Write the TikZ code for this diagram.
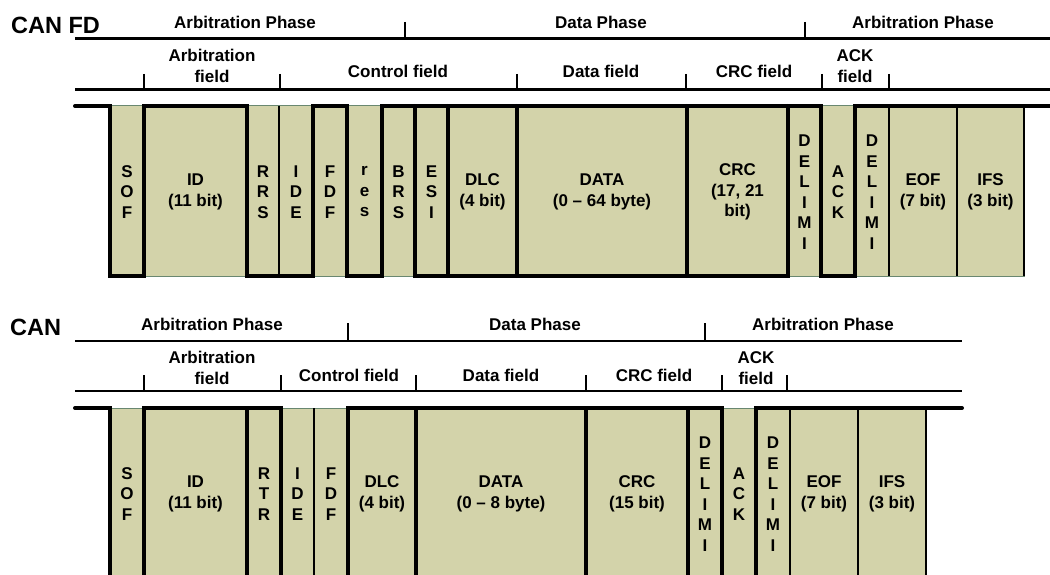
\documentclass[tikz,border=0pt]{standalone}
\usepackage{fontspec}
\setmainfont{Liberation Sans}
\definecolor{boxfill}{RGB}{211,211,170}
\definecolor{edgegreen}{RGB}{105,135,112}
\tikzset{
  titlelbl/.style={font=\bfseries\fontsize{23.5}{26}\selectfont, inner sep=0pt},
  lbl/.style={font=\bfseries\fontsize{17}{21.5}\selectfont, inner sep=0pt, align=center},
  bitlbl/.style={font=\bfseries\fontsize{17}{20.5}\selectfont, inner sep=0pt, align=center},
  ruleline/.style={line width=2.2pt},
  tickline/.style={line width=2pt},
  sigline/.style={line width=4pt, line join=miter, line cap=round},
  thinline/.style={line width=1.4pt},
  cellfill/.style={fill=boxfill, draw=edgegreen, line width=1pt},
}
\begin{document}
\begin{tikzpicture}[x=1pt,y=-1pt]
\useasboundingbox (0,0) rectangle (1050,575);
\clip (0,0) rectangle (1050,575);

% ================= CAN FD =================
\node[titlelbl, anchor=base west] (canfd) at (11,34) {CAN FD};
% phase line
\draw[ruleline] (75,38.5) -- (1050,38.5);
\foreach \x in {405,805} \draw[tickline] (\x,22) -- (\x,38.5);
\node[lbl, anchor=base] (fdph1) at (245,29) {Arbitration Phase};
\node[lbl, anchor=base] (fdph2) at (601,29) {Data Phase};
\node[lbl, anchor=base] (fdph3) at (923,29) {Arbitration Phase};
% field line
\draw[ruleline] (75,89.5) -- (1050,89.5);
\foreach \x in {144,280,517,686,822,889} \draw[tickline] (\x,74) -- (\x,89.5);
\node[lbl] (fdf1) at (212,66) {Arbitration\\field};
\node[lbl, anchor=base] (fdf2) at (398,78) {Control field};
\node[lbl, anchor=base] (fdf3) at (601,78) {Data field};
\node[lbl, anchor=base] (fdf4) at (754,78) {CRC field};
\node[lbl] (fdf5) at (855,66) {ACK\\field};
% cells
\fill[cellfill] (110,106) rectangle (1024,276);
\foreach \x in {279,889,957,1024} \draw[thinline] (\x,106) -- (\x,276);
\foreach \x in {448,517,687} \draw[sigline] (\x,106) -- (\x,276);
\draw[sigline] (75,106) -- (110,106) -- (110,276) -- (144,276) -- (144,106)
  -- (247,106) -- (247,276) -- (313,276) -- (313,106) -- (347,106)
  -- (347,276) -- (382,276) -- (382,106) -- (821,106) -- (821,276)
  -- (855,276) -- (855,106) -- (1050,106);
\draw[sigline] (415,106) -- (415,276) -- (788,276) -- (788,106);
\foreach \a/\b/\t [count=\i] in {
  110/144/{S\\O\\F},
  144/247/{ID\\(11 bit)},
  247/279/{R\\R\\S},
  279/313/{I\\D\\E},
  313/347/{F\\D\\F},
  347/382/{r\\e\\s},
  382/415/{B\\R\\S},
  415/448/{E\\S\\I},
  448/517/{DLC\\(4 bit)},
  517/687/{DATA\\(0 – 64 byte)},
  687/788/{CRC\\(17, 21\\bit)},
  788/821/{D\\E\\L\\I\\M\\I},
  821/855/{A\\C\\K},
  855/889/{D\\E\\L\\I\\M\\I},
  889/957/{EOF\\(7 bit)},
  957/1024/{IFS\\(3 bit)}}
  \node[bitlbl] (fdbit\i) at ({(\a+\b)/2},192) {\t};

% ================= CAN =================
\node[titlelbl, anchor=base west] (can) at (10,335) {CAN};
\draw[ruleline] (75,341) -- (962,341);
\foreach \x in {348,705} \draw[tickline] (\x,323) -- (\x,341);
\node[lbl, anchor=base] (cph1) at (212,330) {Arbitration Phase};
\node[lbl, anchor=base] (cph2) at (535,330) {Data Phase};
\node[lbl, anchor=base] (cph3) at (823,330) {Arbitration Phase};
\draw[ruleline] (75,391) -- (962,391);
\foreach \x in {144,281,416,586,722,787} \draw[tickline] (\x,375) -- (\x,391);
\node[lbl] (cf1) at (212,368) {Arbitration\\field};
\node[lbl, anchor=base] (cf2) at (349,381) {Control field};
\node[lbl, anchor=base] (cf3) at (501,381) {Data field};
\node[lbl, anchor=base] (cf4) at (654,381) {CRC field};
\node[lbl] (cf5) at (756,368) {ACK\\field};
\fill[cellfill] (110,408) rectangle (926,578);
\foreach \x in {314,790,858,926} \draw[thinline] (\x,408) -- (\x,578);
\foreach \x in {247,416,586,688} \draw[sigline] (\x,408) -- (\x,578);
\draw[sigline] (75,408) -- (110,408) -- (110,578) -- (144,578) -- (144,408)
  -- (281,408) -- (281,578) -- (348,578) -- (348,408) -- (722,408)
  -- (722,578) -- (756,578) -- (756,408) -- (962,408);
\foreach \a/\b/\t [count=\i] in {
  110/144/{S\\O\\F},
  144/247/{ID\\(11 bit)},
  247/281/{R\\T\\R},
  281/314/{I\\D\\E},
  314/348/{F\\D\\F},
  348/416/{DLC\\(4 bit)},
  416/586/{DATA\\(0 – 8 byte)},
  586/688/{CRC\\(15 bit)},
  688/722/{D\\E\\L\\I\\M\\I},
  722/756/{A\\C\\K},
  756/790/{D\\E\\L\\I\\M\\I},
  790/858/{EOF\\(7 bit)},
  858/926/{IFS\\(3 bit)}}
  \node[bitlbl] (cbit\i) at ({(\a+\b)/2},494) {\t};
\end{tikzpicture}
\end{document}
